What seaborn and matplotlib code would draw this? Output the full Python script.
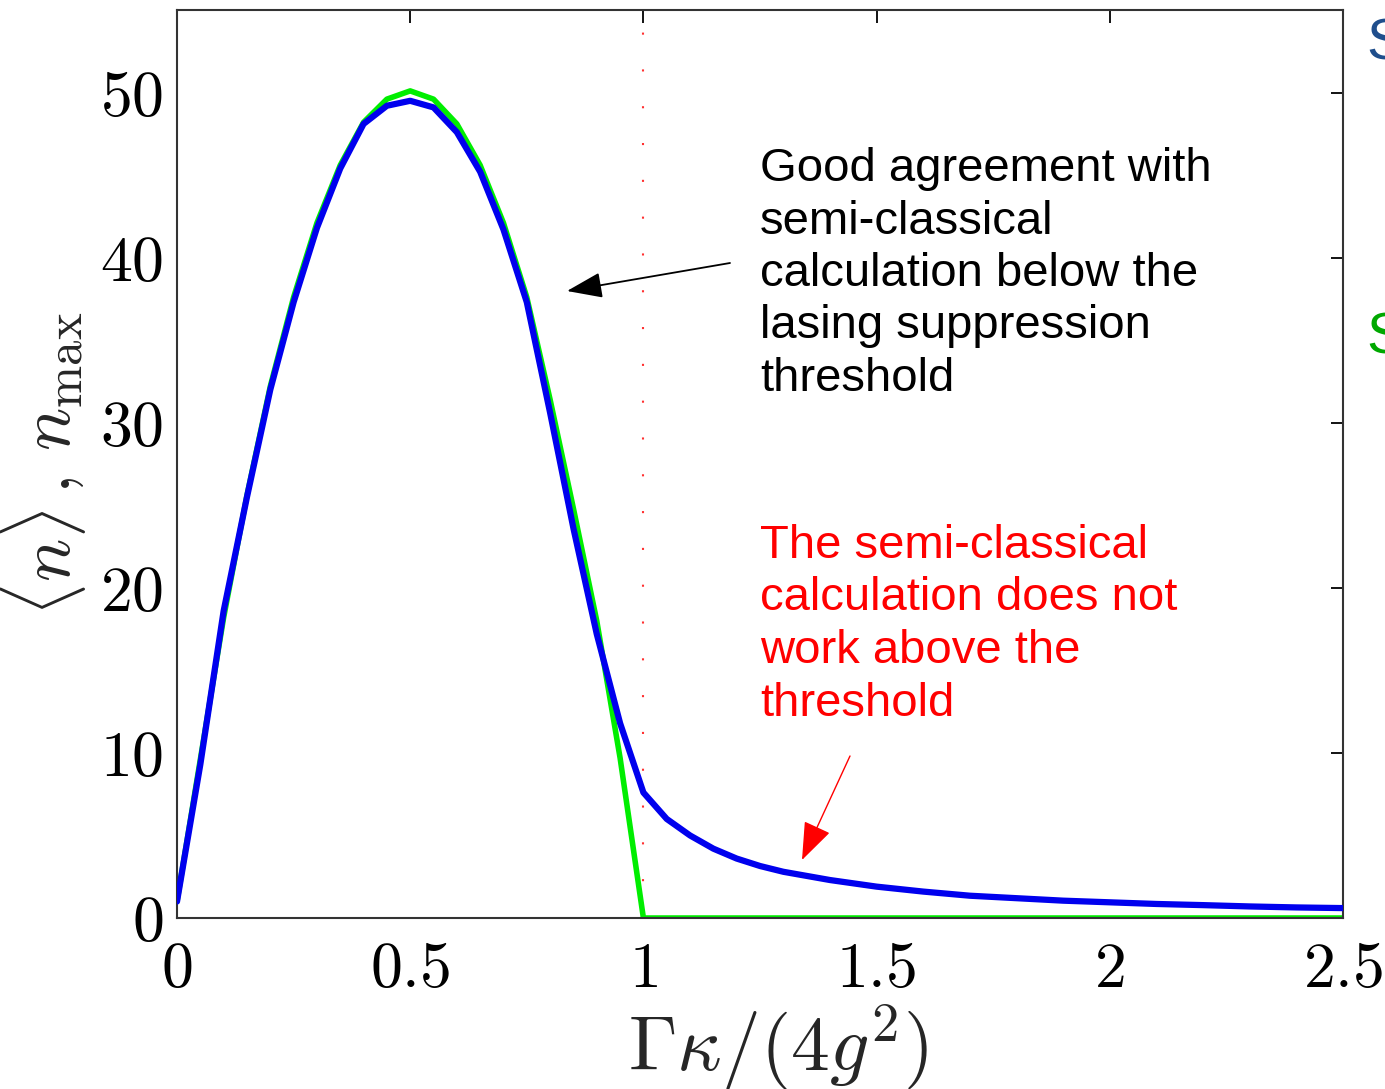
import matplotlib
matplotlib.use("Agg")
import matplotlib.pyplot as plt
import seaborn as sns
import pandas as pd

# ---- data ----
x_semi = [0.0, 0.05, 0.1, 0.15, 0.2, 0.25, 0.3, 0.35, 0.4, 0.45, 0.5, 0.55, 0.6,
          0.65, 0.7, 0.75, 0.8, 0.85, 0.9, 0.95, 1.0, 1.5, 2.0, 2.5]
n_semi = [1.0, 9.6, 18.2, 25.6, 32.2, 37.6, 42.1, 45.6, 48.2, 49.6, 50.1, 49.6, 48.1,
          45.6, 42.1, 37.6, 31.4, 24.8, 18.0, 9.7, 0.0, 0.0, 0.0, 0.0]

x_full = [0.0, 0.05, 0.1, 0.15, 0.2, 0.25, 0.3, 0.35, 0.4, 0.45, 0.5, 0.55, 0.6,
          0.65, 0.7, 0.75, 0.8, 0.85, 0.9, 0.95, 1.0, 1.05, 1.1, 1.15, 1.2, 1.25,
          1.3, 1.4, 1.5, 1.6, 1.7, 1.8, 1.9, 2.0, 2.1, 2.2, 2.3, 2.4, 2.5]
n_full = [1.0, 9.3, 18.6, 25.5, 32.0, 37.3, 41.8, 45.4, 48.1, 49.2, 49.5, 49.1, 47.6,
          45.2, 41.7, 37.3, 30.6, 23.6, 17.2, 11.8, 7.6, 6.0, 5.0, 4.2, 3.6, 3.15,
          2.8, 2.3, 1.9, 1.6, 1.35, 1.2, 1.05, 0.95, 0.85, 0.78, 0.7, 0.64, 0.6]

x_ticks = [0, 0.5, 1, 1.5, 2, 2.5]
x_tick_labels = ["0", "0.5", "1", "1.5", "2", "2.5"]
y_ticks = [0, 10, 20, 30, 40, 50]
y_tick_labels = ["0", "10", "20", "30", "40", "50"]
threshold = 1.0

note_black = ("Good agreement with\nsemi-classical\ncalculation below the\n"
              "lasing suppression\nthreshold")
note_red = "The semi-classical\ncalculation does not\nwork above the\nthreshold"

sns.set_style("white")
plt.rcParams["mathtext.fontset"] = "cm"
plt.rcParams["font.family"] = ["Liberation Sans", "DejaVu Sans"]
plt.rcParams["lines.scale_dashes"] = False

W, H = 1385, 1089
fig = plt.figure(figsize=(W / 100, H / 100), dpi=100)
ax = fig.add_axes([177 / W, 1 - 918 / H, (1343 - 177) / W, (918 - 10) / H])

df_semi = pd.DataFrame({"x": x_semi, "n": n_semi})
df_full = pd.DataFrame({"x": x_full, "n": n_full})

ax.axvline(threshold, color="#ff3030", lw=1.5, ls=(0, (1.5, 25)), zorder=1)
sns.lineplot(data=df_semi, x="x", y="n", ax=ax, color="#00ee00", lw=4.0,
             estimator=None, sort=False, zorder=2)
sns.lineplot(data=df_full, x="x", y="n", ax=ax, color="#0000ee", lw=4.5,
             estimator=None, sort=False, zorder=3)

ax.set_xlim(0, 2.5)
ax.set_ylim(0, 55)
ax.set_xticks(x_ticks)
ax.set_xticklabels(["$" + t + "$" for t in x_tick_labels])
ax.set_yticks(y_ticks)
ax.set_yticklabels(["$" + t + "$" for t in y_tick_labels])
ax.tick_params(direction="in", length=9, width=1.3, top=True, right=True,
               labelsize=46, colors="black")
ax.tick_params(axis="x", pad=16)
ax.tick_params(axis="y", pad=10)
for s in ax.spines.values():
    s.set_visible(True)
    s.set_color("#333333")
    s.set_linewidth(1.5)

ax.set_xlabel(r"$\Gamma\kappa/(4g^2)$", fontsize=56)
ax.set_ylabel(r"$\langle n\rangle\,,\,n_{\rm max}$", fontsize=52)
ax.yaxis.set_label_coords(-0.115, 0.5)
ax.xaxis.set_label_coords(0.516, -0.143)
ax.xaxis.label.set_va("center")
ax.yaxis.label.set_va("center")

# annotations
fig.text(760 / W, 1 - 147 / H, note_black, fontsize=34, color="black",
         va="top", ha="left", linespacing=1.25)
fig.text(760 / W, 1 - 524 / H, note_red, fontsize=34, color="red",
         va="top", ha="left", linespacing=1.25)

ax.annotate("", xy=(567 / W, 1 - 291 / H), xytext=(730 / W, 1 - 263 / H),
            xycoords="figure fraction", textcoords="figure fraction",
            arrowprops=dict(arrowstyle="-|>,head_length=2.2,head_width=0.8",
                            color="black", lw=1.3, shrinkA=0, shrinkB=0))
ax.annotate("", xy=(802 / W, 1 - 860 / H), xytext=(850 / W, 1 - 756 / H),
            xycoords="figure fraction", textcoords="figure fraction",
            arrowprops=dict(arrowstyle="-|>,head_length=2.4,head_width=0.9",
                            color="red", lw=1.0, shrinkA=0, shrinkB=0))

# cut-off letters at the right edge
fig.text(1366 / W, 1 - 60 / H, "S", fontsize=42, color="#1f4e8c", ha="left", va="baseline")
fig.text(1366 / W, 1 - 354 / H, "S", fontsize=42, color="#00a800", ha="left", va="baseline")

fig.savefig("out.png", dpi=100, facecolor="white")
